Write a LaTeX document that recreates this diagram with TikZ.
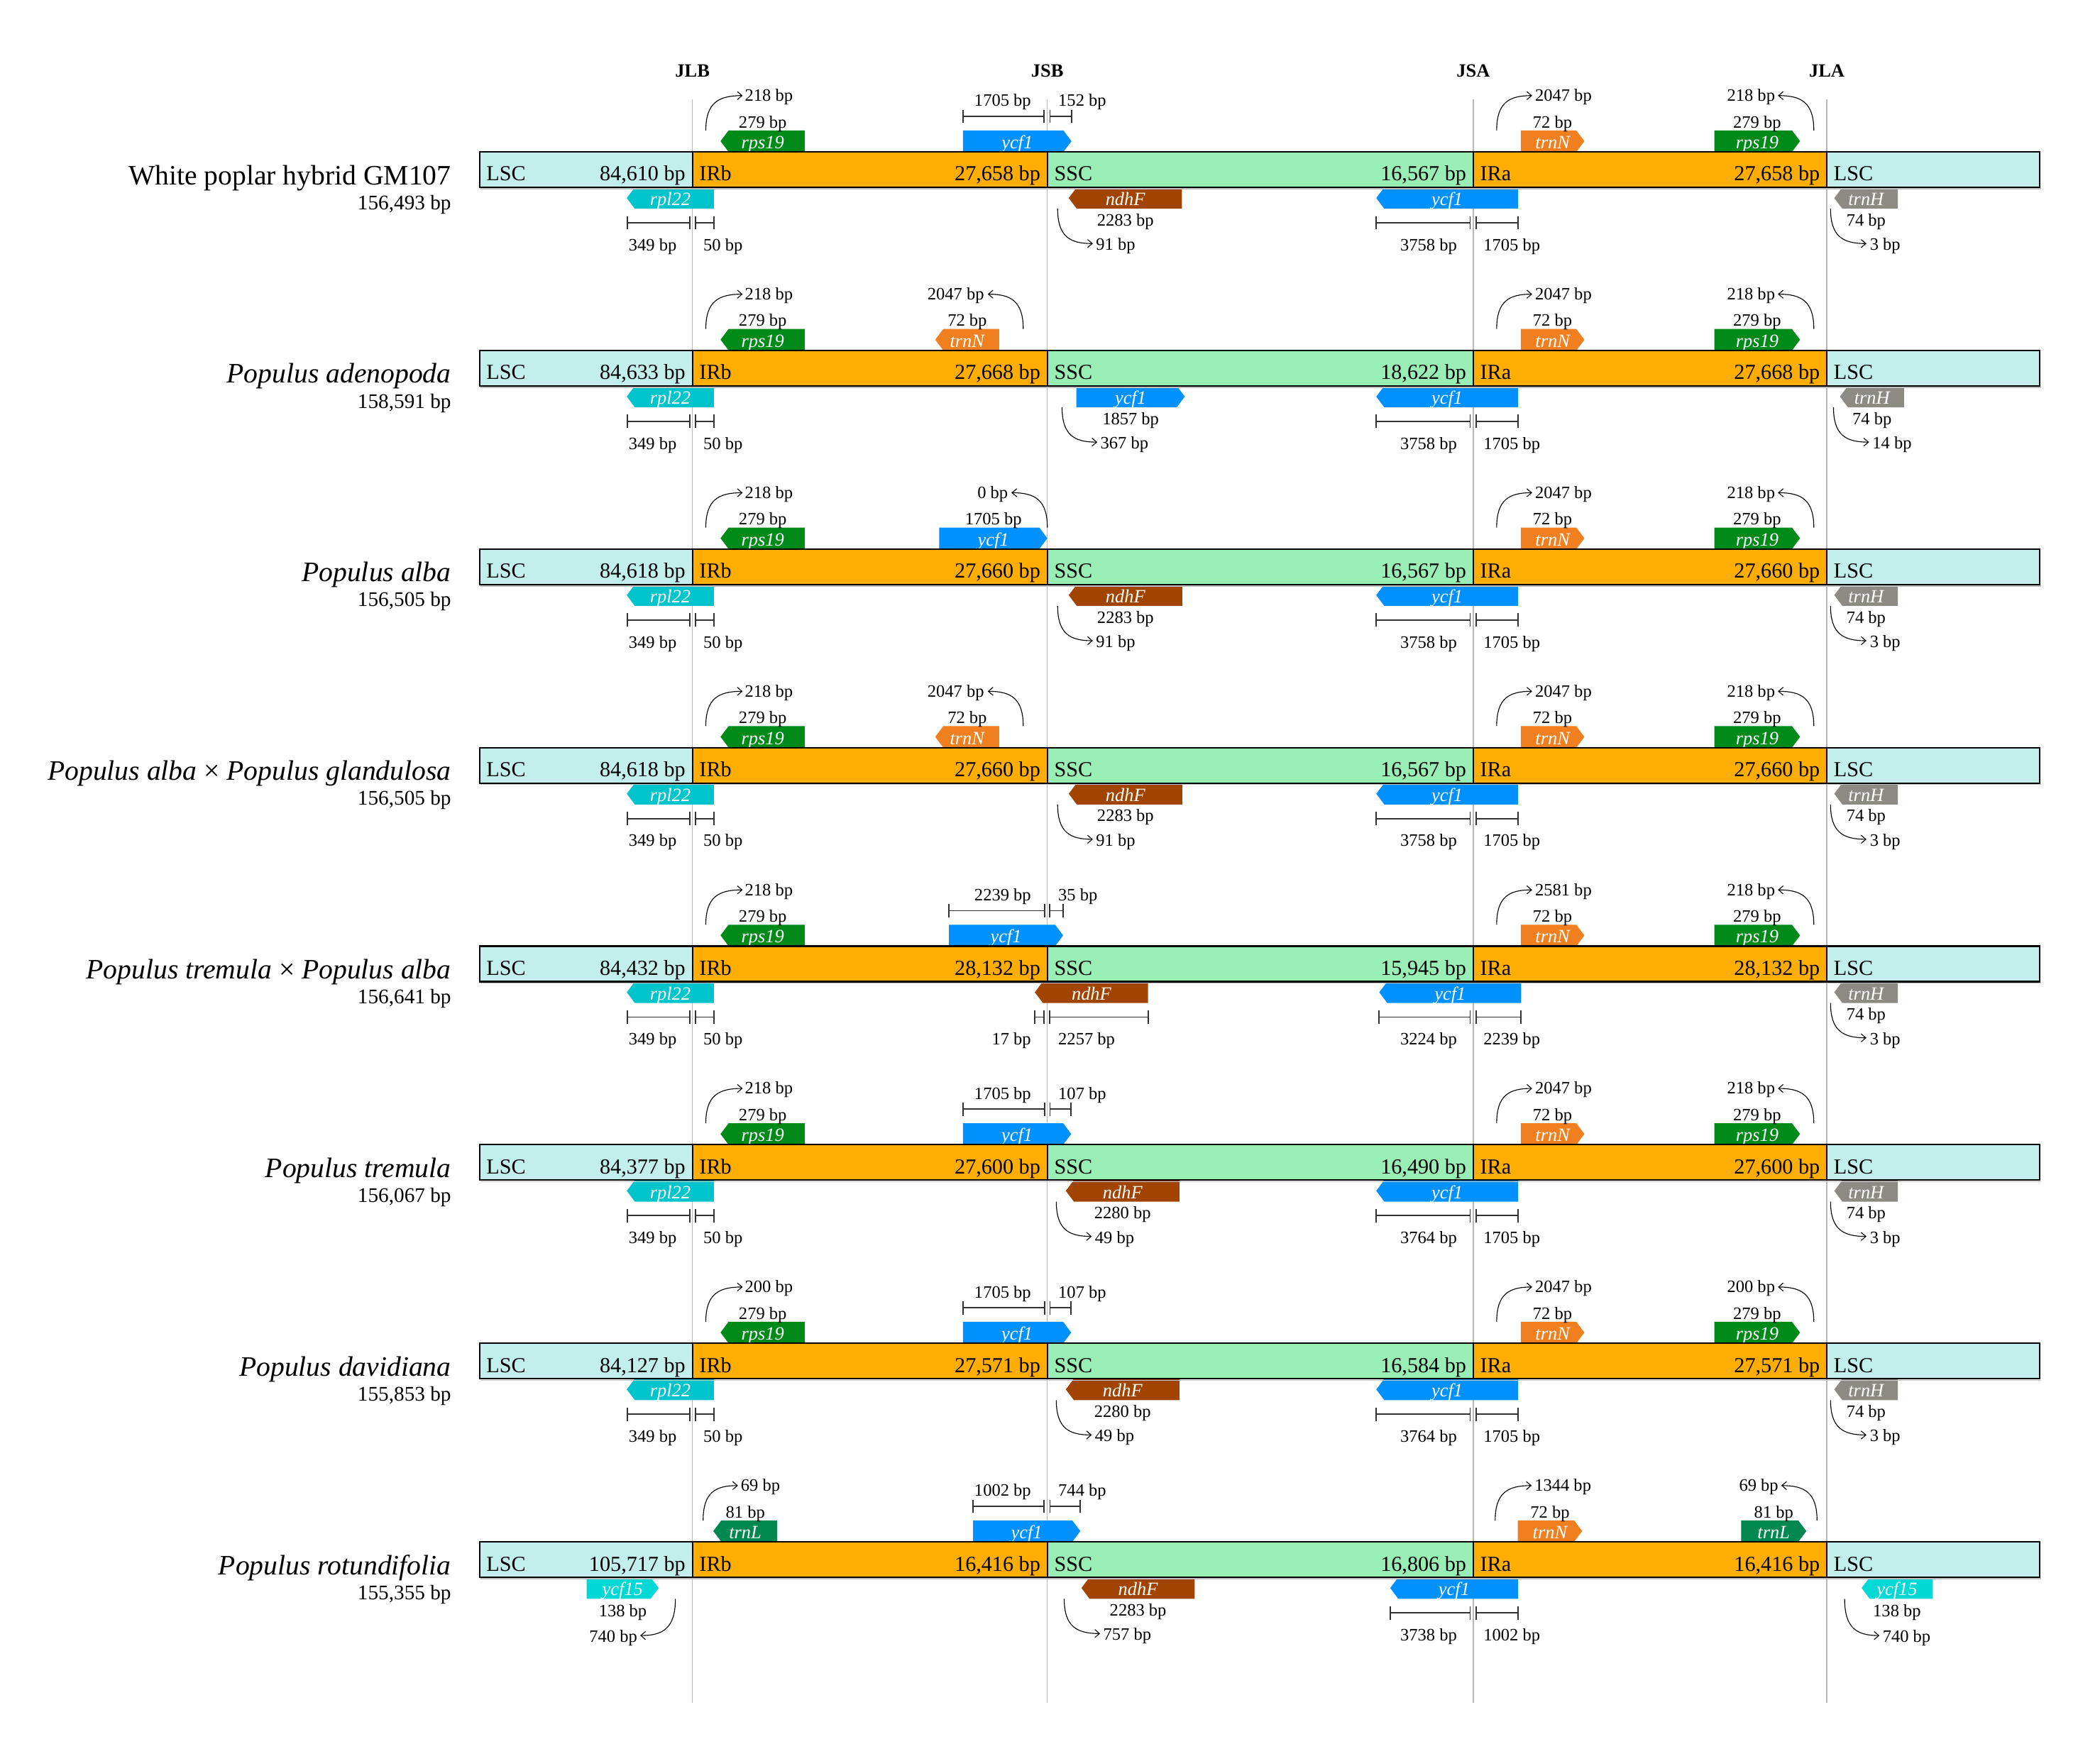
\documentclass[tikz,border=0pt]{standalone}
\usepackage{fontspec}
\setmainfont{Liberation Serif}
\usetikzlibrary{arrows.meta}
\definecolor{lscC}{RGB}{194,238,236}
\definecolor{irC}{RGB}{255,173,0}
\definecolor{sscC}{RGB}{152,238,180}
\definecolor{rpsC}{RGB}{0,138,26}
\definecolor{ycfC}{RGB}{0,145,255}
\definecolor{rplC}{RGB}{0,196,204}
\definecolor{ndhC}{RGB}{160,68,0}
\definecolor{trnNC}{RGB}{240,127,32}
\definecolor{trnHC}{RGB}{140,138,130}
\definecolor{trnLC}{RGB}{0,136,80}
\definecolor{ycfxvC}{RGB}{0,216,214}
\definecolor{barC}{RGB}{50,50,50}
\tikzset{
  box/.style={draw=black,line width=1.1pt},
  jline/.style={draw=black!28,line width=0.7pt},
  bar/.style={draw=barC,line width=1pt},
  curv/.style={draw=black,line width=0.6pt,-{Straight Barb[length=3.5pt,width=6pt]}},
  lab/.style={font=\fontsize{13}{15}\selectfont,inner sep=0pt},
  gl/.style={font=\fontsize{14}{16}\selectfont\itshape,text=white,inner sep=0pt},
  bt/.style={font=\fontsize{16}{19}\selectfont,inner sep=0pt},
  sp/.style={font=\fontsize{21}{25}\selectfont,inner sep=0pt},
  spbp/.style={font=\fontsize{15.5}{18}\selectfont,inner sep=0pt},
  hd/.style={font=\fontsize{14}{17}\selectfont\bfseries,inner sep=0pt},
}
\newcommand\geneL[5]{\fill[#4] (#1,{#3+8}) -- ({#1+6},#3) -- (#2,#3) -- (#2,{#3+16}) -- ({#1+6},{#3+16}) -- cycle;
  \node[gl,anchor=base] at ({(#1+#2)/2},{#3+13.6}) {#5};}
\newcommand\geneR[5]{\fill[#4] (#1,#3) -- ({#2-6},#3) -- (#2,{#3+8}) -- ({#2-6},{#3+16}) -- (#1,{#3+16}) -- cycle;
  \node[gl,anchor=base] at ({(#1+#2)/2},{#3+13.6}) {#5};}
\newcommand\barr[3]{\draw[bar] (#1,{#3-5}) -- (#1,{#3+5}) (#1,#3) -- (#2,#3) (#2,{#3-5}) -- (#2,{#3+5});}
\newcommand\curv[4]{\draw[curv] (#1,#2) .. controls (#1,{#2+0.8*(#4-#2)}) and ({#1+0.35*(#3-#1)},#4) .. (#3,#4);}
\newcommand\labC[3]{\node[lab,anchor=base] at (#1,#2) {#3};}
\newcommand\labW[3]{\node[lab,anchor=base west] at (#1,#2) {#3};}
\newcommand\labE[3]{\node[lab,anchor=base east] at (#1,#2) {#3};}
\newcommand\chloro[4]{%
  \fill[lscC] (358,0) rectangle (517,26.5);
  \fill[irC] (517,0) rectangle (782,26.5);
  \fill[sscC] (782,0) rectangle (1100,26.5);
  \fill[irC] (1100,0) rectangle (1364,26.5);
  \fill[lscC] (1364,0) rectangle (1523,26.5);
  \draw[black!25,line width=0.8pt] (359,27.6) -- (1524,27.6);
  \draw[box] (358,0) rectangle (1523,26.5) (517,0) -- (517,26.5) (782,0) -- (782,26.5) (1100,0) -- (1100,26.5) (1364,0) -- (1364,26.5);
  \node[bt,anchor=base west] at (363,21.7) {LSC};
  \node[bt,anchor=base east] at (512,21.7) {#1 bp};
  \node[bt,anchor=base west] at (522,21.7) {IRb};
  \node[bt,anchor=base east] at (777,21.7) {#2 bp};
  \node[bt,anchor=base west] at (787,21.7) {SSC};
  \node[bt,anchor=base east] at (1095,21.7) {#3 bp};
  \node[bt,anchor=base west] at (1105,21.7) {IRa};
  \node[bt,anchor=base east] at (1359,21.7) {#4 bp};
  \node[bt,anchor=base west] at (1369,21.7) {LSC};}
\newcommand\species[2]{\node[sp,anchor=base east] at (337,24.4) {#1};
  \node[spbp,anchor=base east] at (337,43) {#2};}
% IRb rps19 + LSC rpl22
\newcommand\commonL[1]{%
  \geneL{538}{601}{-16}{rpsC}{rps19}
  \labC{569.5}{-18}{279 bp}
  \curv{527}{-16}{554.5}{-42}
  \labW{556}{-37.8}{#1}
  \geneL{468}{533}{26.5}{rplC}{rpl22}
  \barr{468.3}{515}{53}
  \barr{519.4}{533}{53}
  \labE{505.4}{73.8}{349 bp}
  \labW{525}{73.8}{50 bp}}
% IRa trnN + rps19
\newcommand\commonR[2]{%
  \geneR{1135.5}{1183}{-16}{trnNC}{trnN}
  \labC{1159.2}{-18}{72 bp}
  \curv{1117.5}{-16}{1144}{-42}
  \labW{1146}{-37.8}{#1}
  \geneR{1280}{1344}{-16}{rpsC}{rps19}
  \labC{1312}{-18}{279 bp}
  \curv{1354.3}{-16}{1327.5}{-42}
  \labE{1325.5}{-37.8}{#2}}
\newcommand\ycfJSA[4]{%
  \geneL{#1}{#2}{26.5}{ycfC}{ycf1}
  \barr{#1}{1097.7}{53}
  \barr{1102}{#2}{53}
  \labE{1088}{73.8}{#3}
  \labW{1107.5}{73.8}{#4}}
\newcommand\trnHg[5]{%
  \geneL{#1}{#2}{26.5}{trnHC}{trnH}
  \labC{{(#1+#2)/2}}{55.3}{74 bp}
  \curv{#3}{42.5}{#4}{68.5}
  \labW{{#4+2.4}}{73.5}{#5}}
\newcommand\ndhFg[6]{%
  \geneL{#1}{#2}{26.5}{ndhC}{ndhF}
  \labC{{(#1+#2)/2}}{55.3}{#3}
  \curv{#4}{42.5}{#5}{68.5}
  \labW{{#5+2.2}}{73.5}{#6}}
\begin{document}
\begin{tikzpicture}[x={(1pt,0)},y={(0,-1pt)}]
\fill[white] (0,0) rectangle (1568,1302);
\useasboundingbox (0,0) rectangle (1568,1302);
% junction lines
\foreach \xx in {517,782,1100,1364} {\draw[jline] (\xx,74) -- (\xx,1272);}
\node[hd,anchor=base] (hJLB) at (517,57.4) {JLB};
\node[hd,anchor=base] (hJSB) at (782,57.4) {JSB};
\node[hd,anchor=base] (hJSA) at (1100,57.4) {JSA};
\node[hd,anchor=base] (hJLA) at (1364,57.4) {JLA};
% ---------- Row 1
\begin{scope}[shift={(0,113.4)}]
  \species{White poplar hybrid GM107}{156,493 bp}
  \commonL{218 bp}
  \commonR{2047 bp}{218 bp}
  \geneR{719}{800}{-16}{ycfC}{ycf1}
  \barr{719}{779.6}{-26.5}
  \barr{784}{800}{-26.5}
  \labE{770}{-34}{1705 bp}
  \labW{790}{-34}{152 bp}
  \ndhFg{798}{882.5}{2283 bp}{789.7}{816}{91 bp}
  \ycfJSA{1027.6}{1133.5}{3758 bp}{1705 bp}
  \trnHg{1369.6}{1417}{1366.8}{1393.6}{3 bp}
  \chloro{84,610}{27,658}{16,567}{27,658}
\end{scope}
% ---------- Row 2
\begin{scope}[shift={(0,261.7)}]
  \species{\itshape Populus adenopoda}{158,591 bp}
  \commonL{218 bp}
  \commonR{2047 bp}{218 bp}
  \geneL{698.3}{746}{-16}{trnNC}{trnN}
  \labC{722.2}{-18}{72 bp}
  \curv{764}{-16}{737.5}{-42}
  \labE{735}{-37.8}{2047 bp}
  \geneR{803.7}{884.6}{26.5}{ycfC}{ycf1}
  \labC{844.2}{55.3}{1857 bp}
  \curv{793}{42.5}{819.3}{68.5}
  \labW{821.5}{73.5}{367 bp}
  \ycfJSA{1027.6}{1133.5}{3758 bp}{1705 bp}
  \trnHg{1373.8}{1421.7}{1369}{1395.5}{14 bp}
  \chloro{84,633}{27,668}{18,622}{27,668}
\end{scope}
% ---------- Row 3
\begin{scope}[shift={(0,410)}]
  \species{\itshape Populus alba}{156,505 bp}
  \commonL{218 bp}
  \commonR{2047 bp}{218 bp}
  \geneR{701.3}{782}{-16}{ycfC}{ycf1}
  \labC{741.7}{-18}{1705 bp}
  \curv{782}{-16}{755.2}{-42}
  \labE{752.8}{-37.8}{0 bp}
  \ndhFg{798}{882.7}{2283 bp}{789.7}{816}{91 bp}
  \ycfJSA{1027.6}{1133.5}{3758 bp}{1705 bp}
  \trnHg{1369.6}{1417}{1366.8}{1393.6}{3 bp}
  \chloro{84,618}{27,660}{16,567}{27,660}
\end{scope}
% ---------- Row 4
\begin{scope}[shift={(0,558.3)}]
  \species{\itshape Populus alba \textup{×} Populus glandulosa}{156,505 bp}
  \commonL{218 bp}
  \commonR{2047 bp}{218 bp}
  \geneL{698.3}{746}{-16}{trnNC}{trnN}
  \labC{722.2}{-18}{72 bp}
  \curv{764}{-16}{737.5}{-42}
  \labE{735}{-37.8}{2047 bp}
  \ndhFg{798}{882.7}{2283 bp}{789.7}{816}{91 bp}
  \ycfJSA{1027.6}{1133.5}{3758 bp}{1705 bp}
  \trnHg{1369.6}{1417}{1366.8}{1393.6}{3 bp}
  \chloro{84,618}{27,660}{16,567}{27,660}
\end{scope}
% ---------- Row 5
\begin{scope}[shift={(0,706.6)}]
  \species{\itshape Populus tremula \textup{×} Populus alba}{156,641 bp}
  \commonL{218 bp}
  \commonR{2581 bp}{218 bp}
  \geneR{708.5}{793.8}{-16}{ycfC}{ycf1}
  \barr{708.5}{779.8}{-26.5}
  \barr{783.8}{793.8}{-26.5}
  \labE{770}{-34}{2239 bp}
  \labW{790}{-34}{35 bp}
  \geneL{772.7}{857.2}{26.5}{ndhC}{ndhF}
  \barr{772.7}{779.4}{53}
  \barr{783.8}{857.2}{53}
  \labE{770}{73.8}{17 bp}
  \labW{790}{73.8}{2257 bp}
  \ycfJSA{1029.8}{1135.8}{3224 bp}{2239 bp}
  \trnHg{1369.6}{1417}{1366.8}{1393.6}{3 bp}
  \chloro{84,432}{28,132}{15,945}{28,132}
\end{scope}
% ---------- Row 6
\begin{scope}[shift={(0,854.9)}]
  \species{\itshape Populus tremula}{156,067 bp}
  \commonL{218 bp}
  \commonR{2047 bp}{218 bp}
  \geneR{719}{799.8}{-16}{ycfC}{ycf1}
  \barr{719}{779.9}{-26.5}
  \barr{784}{799.8}{-26.5}
  \labE{770}{-34}{1705 bp}
  \labW{790}{-34}{107 bp}
  \ndhFg{795.8}{880.6}{2280 bp}{788.7}{815.2}{49 bp}
  \ycfJSA{1027.6}{1133.5}{3764 bp}{1705 bp}
  \trnHg{1369.6}{1417}{1366.8}{1393.6}{3 bp}
  \chloro{84,377}{27,600}{16,490}{27,600}
\end{scope}
% ---------- Row 7
\begin{scope}[shift={(0,1003.2)}]
  \species{\itshape Populus davidiana}{155,853 bp}
  \commonL{200 bp}
  \commonR{2047 bp}{200 bp}
  \geneR{719}{799.8}{-16}{ycfC}{ycf1}
  \barr{719}{779.9}{-26.5}
  \barr{784}{799.8}{-26.5}
  \labE{770}{-34}{1705 bp}
  \labW{790}{-34}{107 bp}
  \ndhFg{795.8}{880.6}{2280 bp}{788.7}{815.2}{49 bp}
  \ycfJSA{1027.6}{1133.5}{3764 bp}{1705 bp}
  \trnHg{1369.6}{1417}{1366.8}{1393.6}{3 bp}
  \chloro{84,127}{27,571}{16,584}{27,571}
\end{scope}
% ---------- Row 8
\begin{scope}[shift={(0,1151.5)}]
  \species{\itshape Populus rotundifolia}{155,355 bp}
  \geneL{532.6}{580.3}{-16}{trnLC}{trnL}
  \labC{556.5}{-18}{81 bp}
  \curv{525}{-16}{551}{-42}
  \labW{553}{-37.8}{69 bp}
  \geneR{726.6}{806.6}{-16}{ycfC}{ycf1}
  \barr{726.6}{779.6}{-26.5}
  \barr{784}{806.6}{-26.5}
  \labE{770}{-34}{1002 bp}
  \labW{790}{-34}{744 bp}
  \geneR{1133.2}{1181.3}{-16}{trnNC}{trnN}
  \labC{1157.3}{-18}{72 bp}
  \curv{1116.4}{-16}{1143.6}{-42}
  \labW{1145.6}{-37.8}{1344 bp}
  \geneR{1300}{1348.7}{-16}{trnLC}{trnL}
  \labC{1324.4}{-18}{81 bp}
  \curv{1356.7}{-16}{1330}{-42}
  \labE{1328}{-37.8}{69 bp}
  \geneR{438}{491.8}{26.5}{ycfxvC}{ycf15}
  \labC{465}{55.8}{138 bp}
  \curv{504.3}{42.5}{478}{70}
  \labE{476}{75}{740 bp}
  \ndhFg{807.5}{892}{2283 bp}{794.6}{821.4}{757 bp}
  \geneL{1038}{1133.5}{26.5}{ycfC}{ycf1}
  \barr{1038}{1097.7}{53}
  \barr{1102}{1133.5}{53}
  \labE{1088}{73.8}{3738 bp}
  \labW{1107.5}{73.8}{1002 bp}
  \geneL{1390}{1442.8}{26.5}{ycfxvC}{ycf15}
  \labC{1416.4}{55.8}{138 bp}
  \curv{1377.3}{42.5}{1403.3}{70}
  \labW{1405.5}{75}{740 bp}
  \chloro{105,717}{16,416}{16,806}{16,416}
\end{scope}
\end{tikzpicture}
\end{document}
